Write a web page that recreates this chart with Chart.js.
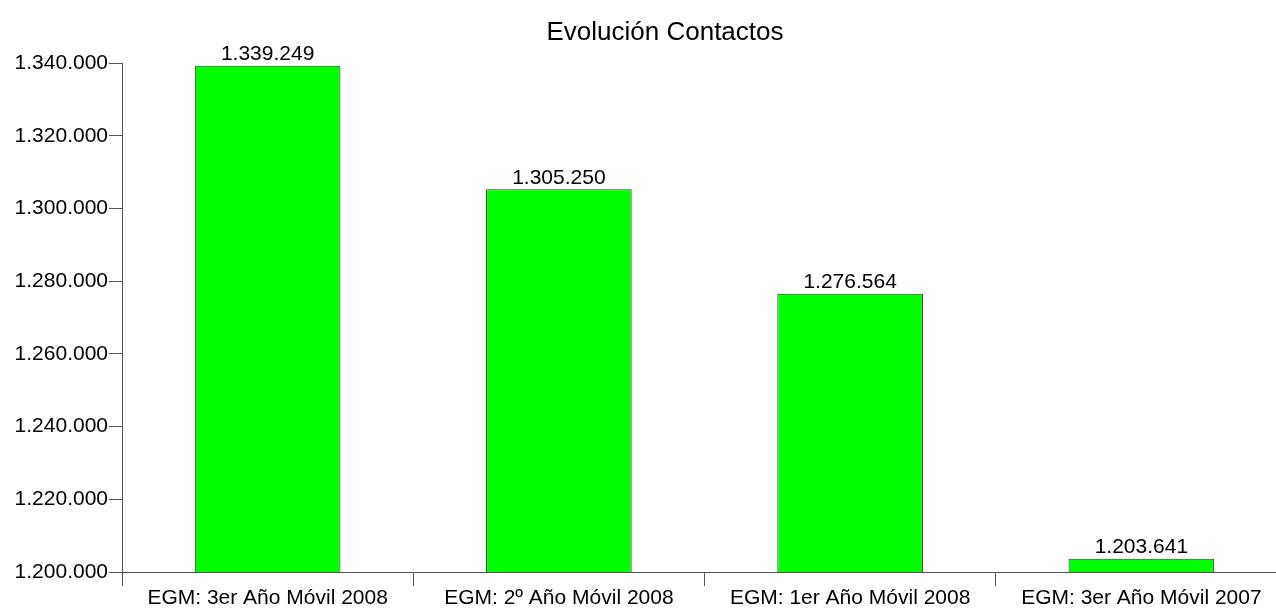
<!DOCTYPE html>
<html>
<head>
<meta charset="utf-8">
<script src="https://cdn.jsdelivr.net/npm/chart.js@4"></script>
<style>
  html, body { margin: 0; padding: 0; background: #fff; overflow: hidden; }
  #wrap { width: 1330px; height: 611px; }
</style>
</head>
<body>
<div id="wrap"><canvas id="chart" width="1330" height="611"></canvas></div>
<script>
// Chart data
const categories = [
  'EGM: 3er Año Móvil 2008',
  'EGM: 2º Año Móvil 2008',
  'EGM: 1er Año Móvil 2008',
  'EGM: 3er Año Móvil 2007'
];
const contactos = [1339249, 1305250, 1276564, 1203641];
const yMin = 1200000;
const yMax = 1340000;
const yStep = 20000;
const chartTitle = 'Evolución Contactos';

const FONT = '"Liberation Sans", Arial, sans-serif';

// 1.339.249 style numbers
function fmt(n) {
  return String(n).replace(/\B(?=(\d{3})+(?!\d))/g, '.');
}

// Title centred on the whole canvas (the plot runs past the window edge)
const canvasTitle = {
  id: 'canvasTitle',
  afterDraw(chart) {
    const ctx = chart.ctx;
    ctx.save();
    ctx.font = '26px ' + FONT;
    ctx.fillStyle = '#000';
    ctx.textAlign = 'center';
    ctx.textBaseline = 'middle';
    ctx.fillText(chartTitle, chart.width / 2, 33);
    ctx.restore();
  }
};

// Value labels on top of each bar
const valueLabels = {
  id: 'valueLabels',
  afterDatasetsDraw(chart) {
    const ctx = chart.ctx;
    const meta = chart.getDatasetMeta(0);
    ctx.save();
    ctx.font = '21px ' + FONT;
    ctx.fillStyle = '#000';
    ctx.textAlign = 'center';
    ctx.textBaseline = 'bottom';
    meta.data.forEach((bar, i) => {
      ctx.fillText(fmt(contactos[i]), bar.x, bar.y - 1);
    });
    ctx.restore();
  }
};

const ctx = document.getElementById('chart').getContext('2d');
new Chart(ctx, {
  type: 'bar',
  data: {
    labels: categories,
    datasets: [{
      data: contactos,
      backgroundColor: '#00FF00',
      borderColor: '#333333',
      borderWidth: 1,
      borderSkipped: 'bottom',
      barPercentage: 0.5,
      categoryPercentage: 1.0
    }]
  },
  options: {
    responsive: false,
    animation: false,
    layout: { padding: { left: 0, right: 43, top: 63, bottom: 0 } },
    plugins: {
      legend: { display: false },
      tooltip: { enabled: false },
      title: { display: false }
    },
    scales: {
      x: {
        grid: { offset: true, drawOnChartArea: false, tickLength: 14, color: '#555' },
        border: { color: '#555' },
        ticks: { color: '#000', font: { family: FONT, size: 21 }, padding: 0, maxRotation: 0 },
        afterFit(scale) { scale.height = 39; }
      },
      y: {
        min: yMin,
        max: yMax,
        grid: { drawOnChartArea: false, tickLength: 13, color: '#555' },
        border: { color: '#555' },
        ticks: {
          stepSize: yStep,
          color: '#000',
          font: { family: FONT, size: 21 },
          padding: 1,
          callback: (v) => fmt(v)
        },
        afterFit(scale) { scale.width = 122; }
      }
    }
  },
  plugins: [valueLabels, canvasTitle]
});
</script>
</body>
</html>
